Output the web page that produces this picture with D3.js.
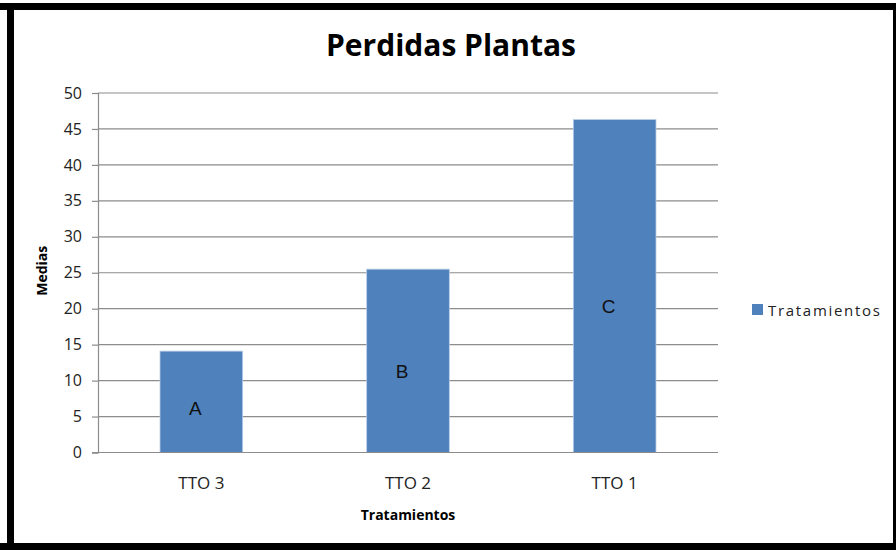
<!DOCTYPE html>
<html><head><meta charset="utf-8">
<script src="https://cdn.jsdelivr.net/npm/d3@7"></script>
<style>body{margin:0;background:#fff}svg{display:block}text{font-family:"Open Sans","Liberation Sans",sans-serif}</style>
</head><body>
<script>
const categories = ["TTO 3", "TTO 2", "TTO 1"];
const values = [14.1, 25.5, 46.3];
const groupLabels = ["A", "B", "C"];
const yTicks = [0, 5, 10, 15, 20, 25, 30, 35, 40, 45, 50];
const seriesName = "Tratamientos";

(function () {
const W = 896, H = 550;
const svg = d3.select("body").append("svg").attr("width", W).attr("height", H);
svg.append("rect").attr("width", W).attr("height", H).attr("fill", "#fff");

// frame
svg.append("rect").attr("x", 0).attr("y", 3).attr("width", W).attr("height", 7).attr("fill", "#000");
svg.append("rect").attr("x", 7).attr("y", 3).attr("width", 7).attr("height", H - 3).attr("fill", "#000");
svg.append("rect").attr("x", 0).attr("y", 543).attr("width", W).attr("height", 7).attr("fill", "#000");
svg.append("rect").attr("x", 893).attr("y", 3).attr("width", 3).attr("height", H - 3).attr("fill", "#000");

const pLeft = 98, pRight = 718, pTop = 93, pBottom = 452.5;
const x = d3.scaleBand().domain(categories).range([pLeft, pRight]).paddingInner(0.6).paddingOuter(0.3);
const y = d3.scaleLinear().domain([0, 50]).range([pBottom, pTop]);

// gridlines
svg.append("g").selectAll("line").data(yTicks.filter(d => d > 0)).join("line")
  .attr("x1", pLeft).attr("x2", pRight).attr("y1", d => y(d)).attr("y2", d => y(d))
  .attr("stroke", "#8c8c8c").attr("stroke-width", 1.2);

// y axis
const yAxis = svg.append("g").attr("transform", `translate(${pLeft},0)`)
  .call(d3.axisLeft(y).tickValues(yTicks).tickSize(6).tickPadding(10));
yAxis.select(".domain").attr("stroke", "#8c8c8c").attr("stroke-width", 1.2);
yAxis.selectAll(".tick line").attr("stroke", "#8c8c8c").attr("stroke-width", 1.2);
yAxis.selectAll(".tick text").attr("font-size", 16).attr("fill", "#222");

// bars
svg.append("g").selectAll("rect").data(values).join("rect")
  .attr("x", (d, i) => x(categories[i])).attr("width", x.bandwidth())
  .attr("y", d => y(d)).attr("height", d => pBottom - y(d))
  .attr("fill", "#4f81bd").attr("stroke", "#b9cde5").attr("stroke-width", 0.8);

// x axis
const xAxis = svg.append("g").attr("transform", `translate(0,${pBottom})`)
  .call(d3.axisBottom(x).tickSize(0).tickPadding(24));
xAxis.select(".domain").remove();
xAxis.selectAll(".tick text").attr("font-size", 17).attr("fill", "#222");
svg.append("line").attr("x1", pLeft - 6).attr("x2", pRight).attr("y1", pBottom).attr("y2", pBottom)
  .attr("stroke", "#8c8c8c").attr("stroke-width", 1.2);

// group letters inside bars
svg.append("g").selectAll("text").data(groupLabels).join("text")
  .attr("x", (d, i) => x(categories[i]) + x.bandwidth() / 2 - 6)
  .attr("y", (d, i) => y(values[i] * 0.44))
  .attr("dy", "0.35em").attr("text-anchor", "middle")
  .style("font-family", "'Liberation Sans', Arial, sans-serif")
  .attr("font-size", 19).attr("fill", "#111").text(d => d);

// title
svg.append("text").attr("x", 451).attr("y", 56).attr("text-anchor", "middle")
  .attr("font-size", 30).attr("font-weight", "bold").attr("fill", "#000").text("Perdidas Plantas");

// axis titles
svg.append("text").attr("x", (pLeft + pRight) / 2).attr("y", 520).attr("text-anchor", "middle")
  .attr("font-size", 14).attr("font-weight", "bold").attr("fill", "#000").text("Tratamientos");
svg.append("text").attr("transform", `translate(47,${(pTop + pBottom) / 2 - 2}) rotate(-90)`)
  .attr("text-anchor", "middle").attr("font-size", 14).attr("font-weight", "bold").attr("fill", "#000").text("Medias");

// legend
svg.append("rect").attr("x", 752).attr("y", 304).attr("width", 11).attr("height", 11).attr("fill", "#4f81bd");
svg.append("text").attr("x", 768).attr("y", 316).attr("font-size", 15).attr("letter-spacing", 1.7)
  .attr("fill", "#222").text(seriesName);
})();
</script>
</body></html>
